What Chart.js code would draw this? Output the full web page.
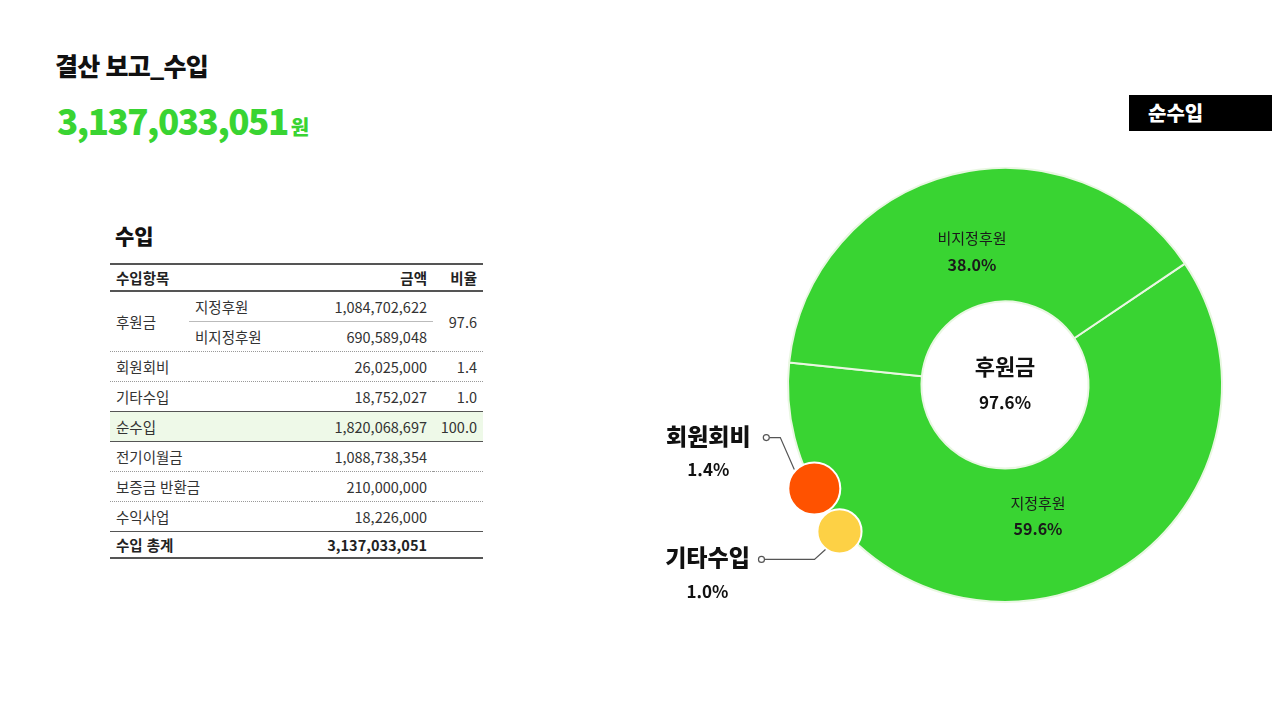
<!DOCTYPE html>
<html lang="ko">
<head>
<meta charset="utf-8">
<script src="https://cdn.jsdelivr.net/npm/chart.js@4.4.1/dist/chart.umd.min.js"></script>
<style>
  html, body { margin: 0; padding: 0; background: #fff; }
  body { width: 1272px; height: 720px; position: relative; overflow: hidden;
         font-family: "Noto Sans CJK KR", "Noto Sans", sans-serif; color: #222; }
  .title { position: absolute; left: 55px; top: 47px; font-size: 25px; font-weight: 900; letter-spacing: -0.8px; color: #111; }
  .total { position: absolute; left: 57px; top: 94px; font-size: 35px; font-weight: 900; color: #39d432; letter-spacing: -1.5px; }
  .total span { font-size: 20px; letter-spacing: 0; margin-left: 3px; }
  .tag { position: absolute; left: 1129px; top: 95px; width: 143px; height: 36px; background: #000; color: #fff;
         font-size: 20px; font-weight: 900; line-height: 36px; box-sizing: border-box; padding-left: 19px; }
  .subtitle { position: absolute; left: 115px; top: 220px; font-size: 21px; font-weight: 900; color: #111; }
  table { position: absolute; left: 110px; top: 263px; width: 373px; border-collapse: collapse; font-size: 14.5px; color: #333; }
  td { height: 29px; padding: 0; line-height: 29px; }
  tr.head td { height: 25px; line-height: 25px; font-weight: 700; color: #222; border-top: 2px solid #555; border-bottom: 2px solid #555; }
  td.c1 { width: 73px; padding-left: 6px; }
  td.c2 { width: 117px; padding-left: 6px; }
  td.c3 { text-align: right; padding-right: 6px; }
  td.c4 { width: 44px; text-align: right; padding-right: 6px; }
  tr.dot td { border-bottom: 1px dotted #999; }
  tr.solid td { border-bottom: 1.5px solid #555; }
  tr.sub td.c2, tr.sub td.c3 { border-bottom: 1px solid #bbb; }
  tr.net td { background: #eef9e8; }
  tr.sum td { height: 25px; line-height: 25px; font-weight: 700; color: #222; border-bottom: 2px solid #555; }
  #wrap { position: absolute; left: 600px; top: 140px; width: 672px; height: 490px; }
</style>
</head>
<body>
<div class="title">결산 보고_수입</div>
<div class="total" id="total"></div>
<div class="tag">순수입</div>
<div class="subtitle">수입</div>
<table id="tbl"></table>
<div id="wrap"><canvas id="donut" width="672" height="490"></canvas></div>

<script>
// data
var grandTotal = 3137033051;
var netIncome = 1820068697;

var ringLabels = ['지정후원', '비지정후원'];
var ringAmounts = [1084702622, 690589048];
var ringShares = [59.6, 38.0];
var groupLabel = '후원금';
var groupShare = 97.6;

var dotLabels = ['회원회비', '기타수입'];
var dotAmounts = [26025000, 18752027];
var dotShares = [1.4, 1.0];

var otherLabels = ['전기이월금', '보증금 반환금', '수익사업'];
var otherAmounts = [1088738354, 210000000, 18226000];

var green = '#39d432';
var dotColors = ['#ff5200', '#fdd145'];

function fmt(n) { return n.toLocaleString('en-US'); }

document.getElementById('total').innerHTML = fmt(grandTotal) + '<span>원</span>';

// table
var html = '';
html += '<tr class="head"><td class="c1" colspan="2">수입항목</td><td class="c3">금액</td><td class="c4">비율</td></tr>';
html += '<tr class="sub"><td class="c1" rowspan="2" style="border-bottom:1px dotted #999">' + groupLabel + '</td><td class="c2">' + ringLabels[0] +
        '</td><td class="c3">' + fmt(ringAmounts[0]) + '</td><td class="c4" rowspan="2" style="border-bottom:1px dotted #999">' + groupShare.toFixed(1) + '</td></tr>';
html += '<tr class="dot"><td class="c2">' + ringLabels[1] + '</td><td class="c3">' + fmt(ringAmounts[1]) + '</td></tr>';
html += '<tr class="dot"><td class="c1" colspan="2">' + dotLabels[0] + '</td><td class="c3">' + fmt(dotAmounts[0]) + '</td><td class="c4">' + dotShares[0].toFixed(1) + '</td></tr>';
html += '<tr class="solid"><td class="c1" colspan="2">' + dotLabels[1] + '</td><td class="c3">' + fmt(dotAmounts[1]) + '</td><td class="c4">' + dotShares[1].toFixed(1) + '</td></tr>';
html += '<tr class="net solid"><td class="c1" colspan="2">순수입</td><td class="c3">' + fmt(netIncome) + '</td><td class="c4">100.0</td></tr>';
for (var i = 0; i < otherLabels.length; i++) {
    var cls = i < otherLabels.length - 1 ? 'dot' : 'solid';
    html += '<tr class="' + cls + '"><td class="c1" colspan="2">' + otherLabels[i] + '</td><td class="c3">' + fmt(otherAmounts[i]) + '</td><td class="c4"></td></tr>';
}
html += '<tr class="sum"><td class="c1" colspan="2">수입 총계</td><td class="c3">' + fmt(grandTotal) + '</td><td class="c4"></td></tr>';
document.getElementById('tbl').innerHTML = html;

// small circles sit on the ring edge, angles in degrees (screen, clockwise from 3 o'clock)
var dotAngles = [151.5, 138.5];
var dotOffsets = [0, 4];

var donutText = {
    id: 'donutText',
    afterDatasetsDraw: function (chart) {
        var ctx = chart.ctx;
        var meta = chart.getDatasetMeta(0);
        var arc0 = meta.data[0];
        var cx = arc0.x, cy = arc0.y, R = arc0.outerRadius, r = arc0.innerRadius;
        ctx.save();
        ctx.textAlign = 'center';
        ctx.textBaseline = 'middle';

        // labels inside ring
        meta.data.forEach(function (a, i) {
            var mid = (a.startAngle + a.endAngle) / 2;
            var rr = (R + r) / 2 - 14;
            var x = cx + Math.cos(mid) * rr, y = cy + Math.sin(mid) * rr;
            ctx.fillStyle = '#1a1a1a';
            ctx.font = '400 15px "Noto Sans CJK KR"';
            ctx.fillText(ringLabels[i], x, y - 14);
            ctx.font = '700 16px "Noto Sans CJK KR"';
            ctx.fillText(ringShares[i].toFixed(1) + '%', x, y + 12);
        });

        // center
        ctx.fillStyle = '#111';
        ctx.font = '700 22px "Noto Sans CJK KR"';
        ctx.fillText(groupLabel, cx, cy - 18);
        ctx.font = '700 17px "Noto Sans CJK KR"';
        ctx.fillText(groupShare.toFixed(1) + '%', cx, cy + 18);

        // circles for small items
        var pts = [];
        dotAmounts.forEach(function (v, i) {
            var ang = dotAngles[i] * Math.PI / 180;
            var d = R + dotOffsets[i];
            var x = cx + Math.cos(ang) * d, y = cy + Math.sin(ang) * d;
            var rad = 5.1 * Math.sqrt(v / 1e6);
            pts.push({ x: x, y: y, r: rad });
        });
        // yellow first so orange overlaps it
        for (var k = pts.length - 1; k >= 0; k--) {
            ctx.beginPath();
            ctx.arc(pts[k].x, pts[k].y, pts[k].r, 0, Math.PI * 2);
            ctx.fillStyle = dotColors[k];
            ctx.fill();
            ctx.lineWidth = 2;
            ctx.strokeStyle = '#ffffff';
            ctx.stroke();
        }

        // leader lines and labels
        ctx.strokeStyle = '#555';
        ctx.lineWidth = 1.2;
        var p = pts[0];
        var a1 = { x: p.x - 20, y: p.y - 19 };
        ctx.beginPath();
        ctx.moveTo(a1.x, a1.y);
        ctx.lineTo(a1.x - 14, a1.y - 32);
        ctx.lineTo(a1.x - 25, a1.y - 32);
        ctx.stroke();
        ctx.beginPath();
        ctx.arc(a1.x - 28, a1.y - 32, 3, 0, Math.PI * 2);
        ctx.fillStyle = '#fff';
        ctx.fill();
        ctx.stroke();
        var lx1 = a1.x - 86, ly1 = a1.y - 32;

        p = pts[1];
        var a2 = { x: p.x - 14, y: p.y + 18 };
        ctx.beginPath();
        ctx.moveTo(a2.x, a2.y);
        ctx.lineTo(a2.x - 11, a2.y + 10);
        ctx.lineTo(a2.x - 61, a2.y + 10);
        ctx.stroke();
        ctx.beginPath();
        ctx.arc(a2.x - 64, a2.y + 10, 3, 0, Math.PI * 2);
        ctx.fill();
        ctx.stroke();
        var lx2 = a2.x - 118, ly2 = a2.y + 10;

        ctx.fillStyle = '#111';
        ctx.font = '900 23px "Noto Sans CJK KR"';
        ctx.fillText(dotLabels[0], lx1, ly1 - 1);
        ctx.fillText(dotLabels[1], lx2, ly2 - 2);
        ctx.font = '700 17px "Noto Sans CJK KR"';
        ctx.fillText(dotShares[0].toFixed(1) + '%', lx1, ly1 + 32);
        ctx.fillText(dotShares[1].toFixed(1) + '%', lx2, ly2 + 32);
        ctx.restore();
    }
};

var ctx = document.getElementById('donut').getContext('2d');
var chart = new Chart(ctx, {
    type: 'doughnut',
    data: {
        labels: ringLabels,
        datasets: [{
            data: ringAmounts,
            backgroundColor: [green, green],
            borderColor: '#e9f7e2',
            borderWidth: 2
        }]
    },
    options: {
        responsive: false,
        animation: false,
        rotation: 56,
        cutout: '38.5%',
        layout: { padding: { left: 187, right: 49, top: 27, bottom: 27 } },
        plugins: {
            legend: { display: false },
            tooltip: { enabled: false }
        },
        events: []
    },
    plugins: [donutText]
});
</script>
</body>
</html>
